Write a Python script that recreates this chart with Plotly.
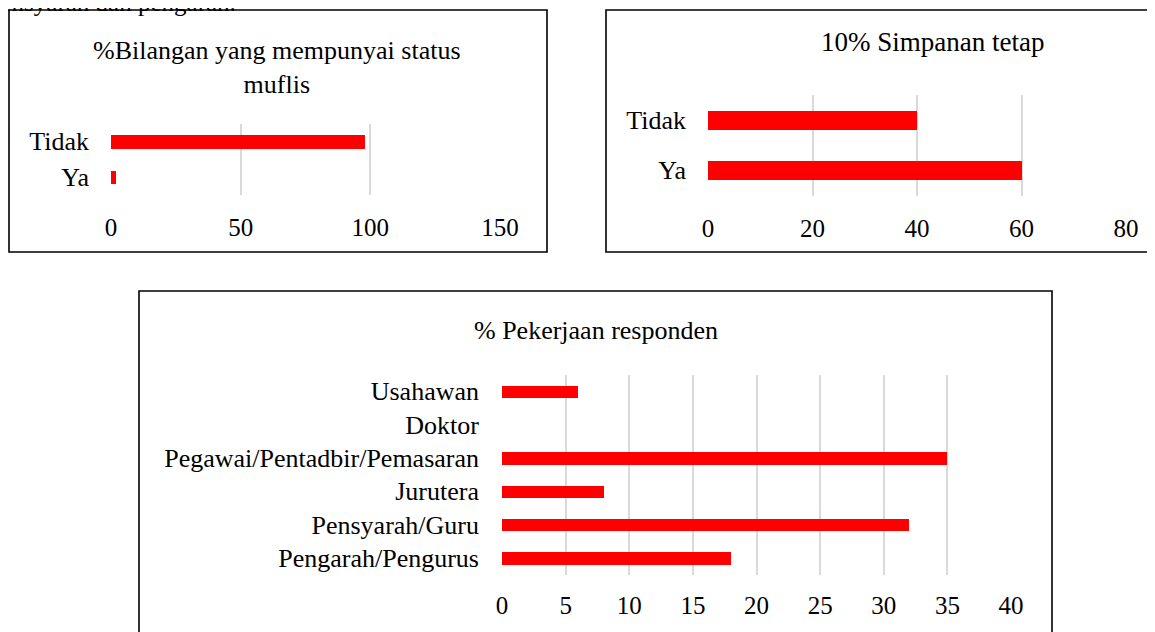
import plotly.graph_objects as go

W, H = 1155, 632
OFF = 8  # page body margin
FONT = "Liberation Serif, Times New Roman, serif"
RED = "#FF0000"
GRID = "#d9d9d9"

# Chart 1
c1_title = "%Bilangan yang mempunyai status<br>muflis"
c1_cats = ["Tidak", "Ya"]
c1_vals = [98, 2]
c1_ticks = [0, 50, 100, 150]

# Chart 2
c2_title = "10% Simpanan tetap"
c2_cats = ["Tidak", "Ya"]
c2_vals = [40, 60]
c2_ticks = [0, 20, 40, 60, 80]

# Chart 3
c3_title = "% Pekerjaan responden"
c3_cats = ["Usahawan", "Doktor", "Pegawai/Pentadbir/Pemasaran", "Jurutera",
           "Pensyarah/Guru", "Pengarah/Pengurus"]
c3_vals = [6, 0, 35, 8, 32, 18]
c3_ticks = [0, 5, 10, 15, 20, 25, 30, 35, 40]

top_text = "pensyarah dan pengarah."


def px(x):
    return (x - OFF) / W


def py(y):
    return 1 - (y - OFF) / H


fig = go.Figure()
fig.add_trace(go.Bar(x=c1_vals, y=c1_cats, orientation="h", marker_color=RED,
                     width=0.38, xaxis="x", yaxis="y"))
fig.add_trace(go.Bar(x=c2_vals, y=c2_cats, orientation="h", marker_color=RED,
                     width=0.37, xaxis="x2", yaxis="y2"))
fig.add_trace(go.Bar(x=c3_vals, y=c3_cats, orientation="h", marker_color=RED,
                     width=0.37, xaxis="x3", yaxis="y3"))

xtickfont = dict(family=FONT, size=25, color="#000000")
ytickfont = dict(family=FONT, size=26, color="#000000")


def xax(dom, ticks, anchor, standoff):
    return dict(domain=[px(dom[0]), px(dom[1])], range=[ticks[0], ticks[-1]],
                tickvals=ticks, showgrid=True, gridcolor=GRID, gridwidth=1.8,
                zeroline=False, showline=False, tickfont=xtickfont, ticks="",
                ticklabelstandoff=standoff, anchor=anchor, fixedrange=True,
                automargin=False)


def yax(dom, anchor, standoff):
    return dict(domain=[py(dom[1]), py(dom[0])], autorange="reversed",
                showgrid=False, zeroline=False, showline=False, tickfont=ytickfont,
                ticklabelstandoff=standoff, anchor=anchor, type="category", ticks="",
                fixedrange=True, automargin=False)


fig.update_layout(
    template="none",
    width=W, height=H, margin=dict(l=0, r=0, t=0, b=0, pad=0),
    paper_bgcolor="white", plot_bgcolor="white", showlegend=False,
    font=dict(family=FONT, color="#000000"),
    xaxis=xax((111, 500), c1_ticks, "y", 15),
    yaxis=yax((123.5, 194.5), "x", 21),
    xaxis2=xax((708, 1126), c2_ticks, "y2", 15),
    yaxis2=yax((94.5, 195.5), "x2", 21),
    xaxis3=xax((502, 1011), c3_ticks, "y3", 13),
    yaxis3=yax((374.5, 574.5), "x3", 22),
    bargap=0,
)

shapes = []
for (x0, y0, x1, y1) in [(9, 10, 547, 252), (606, 10, 1175, 252), (139, 291, 1052, 660)]:
    shapes.append(dict(type="rect", xref="paper", yref="paper",
                       x0=px(x0), x1=px(x1), y0=py(y1), y1=py(y0),
                       line=dict(color="#000000", width=1.6), layer="below"))
fig.update_layout(shapes=shapes)

ann = [
    dict(text=c1_title, x=px(277), y=py(67), xref="paper", yref="paper",
         xanchor="center", yanchor="middle",
         showarrow=False, font=dict(family=FONT, size=26), align="center"),
    dict(text=c2_title, x=px(932), y=py(42), xref="paper", yref="paper",
         xanchor="center", yanchor="middle",
         showarrow=False, font=dict(family=FONT, size=27)),
    dict(text=c3_title, x=px(596), y=py(330), xref="paper", yref="paper",
         xanchor="center", yanchor="middle",
         showarrow=False, font=dict(family=FONT, size=26)),
    dict(text=top_text, x=px(-14), y=py(3), xref="paper", yref="paper",
         xanchor="left", yanchor="middle",
         showarrow=False, font=dict(family=FONT, size=25)),
]
fig.update_layout(annotations=ann)

fig.write_html("out.html")
